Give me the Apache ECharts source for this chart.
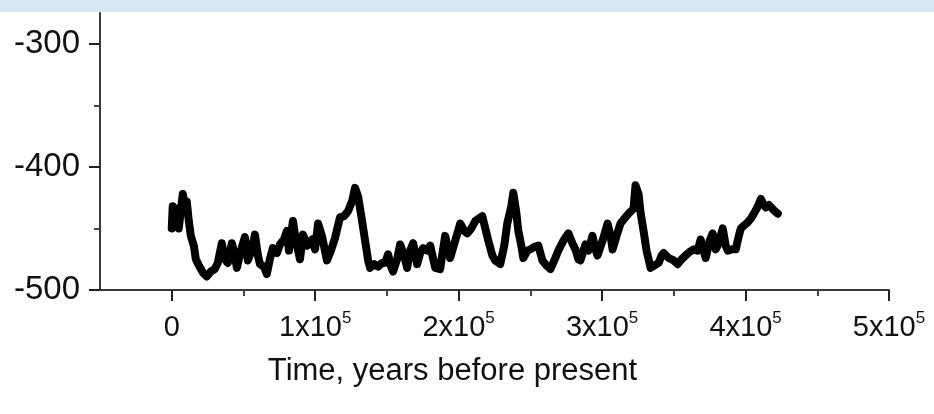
<!DOCTYPE html>
<html><head><meta charset="utf-8">
<script src="https://cdn.jsdelivr.net/npm/echarts@6/dist/echarts.min.js"></script>
<style>html,body{margin:0;padding:0;background:#fff}#c{width:934px;height:414px}</style>
</head><body><div id="c"></div>
<script>
// Time before present (thousands of years) and value
const timeKyr = [0,0.7,2.1,3.5,4.9,6.3,7.7,9.1,10.5,11.9,13.3,15.4,16.8,18.9,21.8,24.4,27.2,30.0,32.1,34.9,37.0,39.1,41.9,44.0,45.4,48.2,51.0,53.1,55.9,58.0,60.1,61.5,64.2,66.3,68.4,70.5,73.3,75.4,78.2,80.3,81.7,83.1,84.5,86.6,89.4,91.5,94.3,97.8,99.9,102.0,104.7,108.2,111.0,113.8,117.3,120.1,122.9,125.7,127.8,129.9,132.7,134.8,136.9,138.3,141.1,143.9,146.6,148.7,150.8,152.9,154.3,157.1,159.2,162.0,164.1,166.2,168.3,171.1,173.2,175.3,178.1,180.2,182.3,183.7,187.1,188.5,190.6,192.7,194.1,197.6,201.1,203.9,206.0,208.8,211.6,215.1,216.5,218.6,220.7,223.5,225.5,229.0,231.8,233.9,236.7,238.1,240.2,241.6,243.7,245.1,247.9,250.0,252.8,255.6,258.4,261.2,264.0,266.7,269.5,273.0,276.5,279.3,281.4,283.5,284.9,287.0,288.4,290.5,293.3,295.4,296.8,300.3,303.8,305.9,307.3,310.1,312.8,315.6,318.4,321.9,323.3,325.4,326.8,328.9,331.0,333.8,336.6,339.4,341.5,342.9,346.4,349.9,352.7,355.4,358.2,361.0,363.8,366.6,368.7,370.8,372.2,375.0,377.1,379.2,380.6,382.7,384.1,386.2,387.6,390.4,393.2,395.3,396.7,399.5,401.6,403.7,405.8,408.6,410.7,412.8,414.2,416.3,417.6,420.4,422.5];
const values = [-450,-432,-448,-434,-450,-436,-422,-432,-428,-444,-456,-464,-475,-480,-486,-489,-485,-483,-478,-462,-475,-478,-462,-472,-482,-468,-457,-476,-467,-455,-472,-479,-481,-487,-475,-466,-470,-463,-459,-452,-468,-456,-444,-460,-475,-455,-464,-459,-467,-446,-456,-476,-468,-458,-441,-440,-436,-428,-417,-424,-444,-460,-476,-482,-479,-481,-478,-478,-471,-481,-485,-475,-463,-472,-482,-468,-462,-479,-470,-466,-468,-464,-475,-482,-483,-472,-456,-467,-474,-460,-446,-452,-454,-450,-444,-441,-440,-450,-460,-472,-476,-479,-464,-446,-432,-421,-437,-452,-464,-474,-468,-467,-465,-464,-476,-480,-483,-476,-468,-460,-454,-462,-467,-475,-476,-468,-463,-468,-456,-467,-472,-460,-446,-456,-467,-456,-446,-442,-438,-434,-415,-422,-437,-452,-468,-482,-480,-478,-472,-470,-474,-476,-479,-475,-472,-469,-467,-468,-459,-468,-474,-460,-454,-467,-464,-456,-450,-464,-468,-467,-467,-456,-450,-447,-445,-442,-438,-432,-426,-431,-433,-431,-432,-436,-438];

const xMajorTicks = [0, 100000, 200000, 300000, 400000, 500000];
const xMinorTicks = [50000, 150000, 250000, 350000, 450000];
const xTickBase = ['0', '1x10', '2x10', '3x10', '4x10', '5x10'];
const xTickExp  = ['', '5', '5', '5', '5', '5'];
const yMajorTicks = [-500, -400, -300];
const yMinorTicks = [-450, -350];
const xAxisTitle = 'Time, years before present';

const FONT = '"Liberation Sans", Arial, sans-serif';
const axisColor = '#3a3a3a';

const seriesData = timeKyr.map((t, i) => [t * 1000, values[i]]);

const chart = echarts.init(document.getElementById('c'), null, {renderer: 'canvas'});
chart.setOption({
  animation: false,
  backgroundColor: '#fff',
  graphic: [{
    type: 'rect', z: -10, silent: true,
    shape: {x: 0, y: 0, width: 934, height: 12},
    style: {fill: '#d8e6f4'}
  }],
  grid: {left: 100, right: 45, top: 13, bottom: 124, containLabel: false, outerBoundsMode: 'none'},
  xAxis: [{
    type: 'value', min: -50000, max: 500000, position: 'bottom',
    axisLine: {show: true, onZero: false, lineStyle: {color: axisColor, width: 2}},
    axisTick: {show: true, customValues: xMajorTicks, length: 11, lineStyle: {color: '#222', width: 2}},
    axisLabel: {
      customValues: xMajorTicks, margin: 20, color: '#111',
      formatter: function (v) {
        const i = xMajorTicks.indexOf(v);
        if (i < 0) return '';
        return xTickExp[i] ? '{b|' + xTickBase[i] + '}{s|' + xTickExp[i] + '}' : '{b|' + xTickBase[i] + '}';
      },
      rich: {
        b: {fontSize: 29, fontFamily: FONT, color: '#111', lineHeight: 32, verticalAlign: 'bottom'},
        s: {fontSize: 17, fontFamily: FONT, color: '#111', lineHeight: 17, verticalAlign: 'top'}
      }
    },
    splitLine: {show: false},
    name: xAxisTitle, nameLocation: 'middle', nameGap: 66,
    nameTextStyle: {fontSize: 31, fontFamily: FONT, color: '#111', padding: [0, 84, 0, 0]}
  }, {
    type: 'value', min: -50000, max: 500000, position: 'bottom',
    axisLine: {show: false, onZero: false},
    axisTick: {show: true, customValues: xMinorTicks, length: 6, lineStyle: {color: '#444', width: 2}},
    axisLabel: {show: false},
    splitLine: {show: false}
  }],
  yAxis: [{
    type: 'value', min: -500, max: -275, position: 'left',
    axisLine: {show: true, onZero: false, lineStyle: {color: axisColor, width: 2}},
    axisTick: {show: true, customValues: yMajorTicks, length: 11, lineStyle: {color: '#222', width: 2}},
    axisLabel: {customValues: yMajorTicks, margin: 20, fontSize: 33, fontFamily: FONT, color: '#111'},
    splitLine: {show: false}
  }, {
    type: 'value', min: -500, max: -275, position: 'left',
    axisLine: {show: false, onZero: false},
    axisTick: {show: true, customValues: yMinorTicks, length: 6, lineStyle: {color: '#444', width: 2}},
    axisLabel: {show: false},
    splitLine: {show: false}
  }],
  series: [{
    type: 'line', xAxisIndex: 0, yAxisIndex: 0,
    data: seriesData, showSymbol: false, symbol: 'none',
    lineStyle: {color: '#000', width: 8, join: 'round', cap: 'round'},
    clip: false
  }]
});
</script>
</body></html>
